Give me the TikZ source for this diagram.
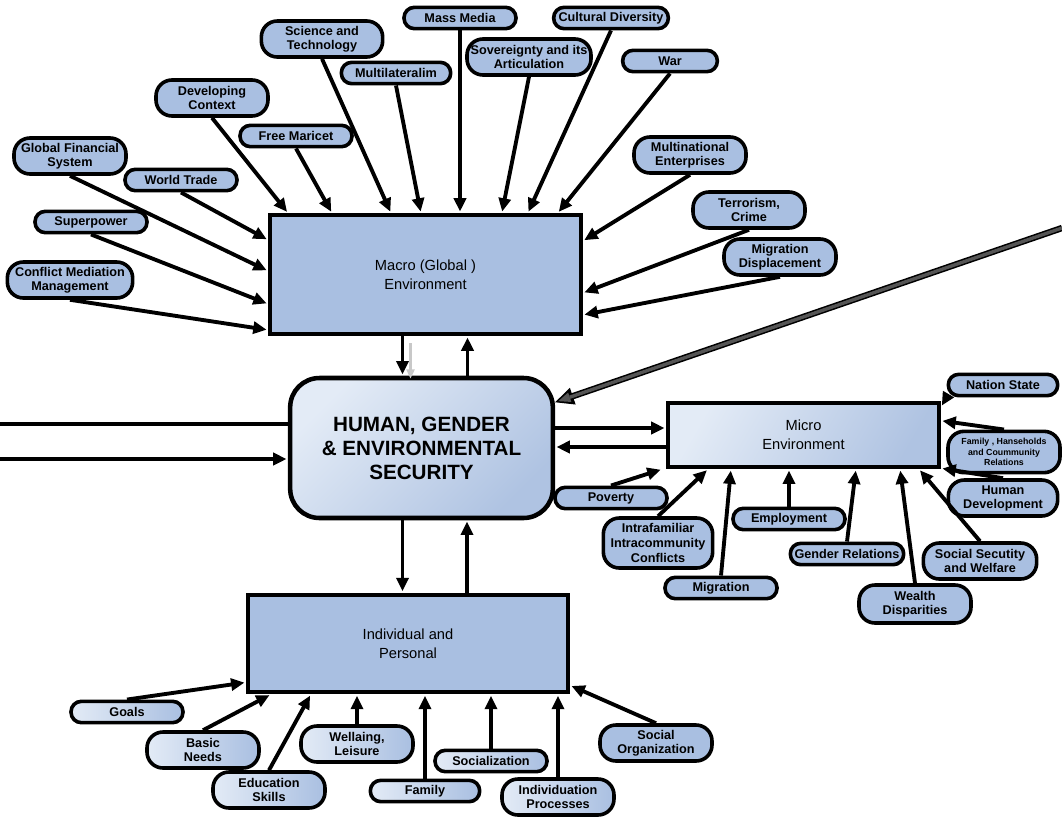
\documentclass[tikz,border=0pt]{standalone}
\usepackage{fontspec}
\setmainfont{Liberation Sans}
\usetikzlibrary{arrows.meta,calc}
\definecolor{cPill}{HTML}{A9BFE1}
\definecolor{cPale}{HTML}{E3EBF6}
\definecolor{cDeep}{HTML}{AFC3E2}
\definecolor{cGhost}{HTML}{C8C8C8}
\definecolor{cBeam}{HTML}{555555}

\begin{document}
\begin{tikzpicture}[
  x=0.75pt,y=-0.75pt,
  font=\fontsize{9.5}{10.5}\selectfont\bfseries,
  ar/.style={-{Triangle[length=10pt,width=9pt]},line width=2.9pt,shorten >=1pt},
  ghost/.style={-{Triangle[length=7pt,width=6pt]},line width=1.8pt,color=cGhost},
  pill/.style={draw,line width=2.7pt,fill=cPill,rounded corners=7.8pt,align=center,
               minimum width=84pt,minimum height=16pt,inner xsep=1pt,inner ysep=2pt},
  pill2/.style={pill,minimum height=27pt,rounded corners=12pt},
  soft/.style={left color=cPale,right color=cPill},
  box/.style={draw,line width=3.4pt,fill=cPill,align=center,
              font=\fontsize{11}{14}\selectfont\mdseries},
  hub/.style={draw,line width=3.4pt,rounded corners=22pt,align=center,
              font=\fontsize{15.5}{18}\selectfont\bfseries,
              left color=cPale,right color=cDeep,shading angle=45},
]
\path[use as bounding box,fill=white] (0,0) rectangle (1062,821);

% ---------------------------------------------------------- the four boxes
\node[box,minimum width=233pt,minimum height=89pt] (macro) at (425.5,274.5)
  {Macro (Global )\\Environment};
\node[hub,minimum width=197pt,minimum height=105pt] (hum) at (421.5,448)
  {HUMAN, GENDER\\\& ENVIRONMENTAL\\SECURITY};
\node[box,minimum width=203pt,minimum height=48pt,
      left color=cPale,right color=cDeep,shading angle=60] (micro) at (803.5,435)
  {Micro\\Environment};
\node[box,minimum width=240pt,minimum height=73pt] (ind) at (408,643.5)
  {Individual and\\Personal};

% ---------------------------------------------------------- macro factors
\node[pill2,minimum width=91pt] (sci) at (322,39) {Science and\\Technology};
\node[pill2] (dev) at (212,98) {Developing\\Context};
\node[pill] (fre) at (296,136) {Free Maricet};
\node[pill2] (gfs) at (70,156) {Global Financial\\System};
\node[pill] (wtr) at (181,180) {World Trade};
\node[pill] (sup) at (91,222) {Superpower};
\node[pill2,minimum width=94pt] (cmm) at (70,280) {Conflict Mediation\\Management};
\node[pill] (mas) at (460,18) {Mass Media};
\node[pill,minimum width=82pt] (mul) at (396,73) {Multilateralim};
\node[pill2,minimum width=93pt] (sov) at (529,57) {Sovereignty and its\\Articulation};
\node[pill,minimum width=86pt] (cul) at (611,18) {Cultural Diversity};
\node[pill,minimum width=71pt] (war) at (670,61) {War};
\node[pill2] (mne) at (690,155) {Multinational\\Enterprises};
\node[pill2] (ter) at (749,210) {Terrorism,\\Crime};
\node[pill2] (mdp) at (780,257) {Migration\\Displacement};

% ---------------------------------------------------------- micro factors
\node[pill,minimum width=82pt] (nat) at (1003,385) {Nation State};
\node[pill2,minimum height=31pt,font=\fontsize{6.6}{8}\selectfont\bfseries] (fhc) at (1004,452)
  {Family , Hanseholds\\and Coummunity\\Relations};
\node[pill2,minimum width=82pt] (hdv) at (1003,498) {Human\\Development};
\node[pill2,minimum width=85pt] (ssw) at (980,561) {Social Secutity\\and Welfare};
\node[pill2,minimum height=28.5pt] (wdi) at (915,604) {Wealth\\Disparities};
\node[pill,minimum width=85pt] (gen) at (847,554) {Gender Relations};
\node[pill] (emp) at (789,519) {Employment};
\node[pill] (mgr) at (721,588) {Migration};
\node[pill2,minimum width=82pt,minimum height=37.5pt,
      font=\fontsize{9.5}{11.5}\selectfont\bfseries] (ifc) at (658,543)
  {Intrafamiliar\\Intracommunity\\Conflicts};
\node[pill] (pov) at (611,498) {Poverty};

% ---------------------------------------------------------- individual factors
\node[pill,soft] (goa) at (127,712) {Goals};
\node[pill2,soft] (bas) at (203,750) {Basic\\Needs};
\node[pill2,soft] (edu) at (269,790) {Education\\Skills};
\node[pill2,soft] (wel) at (357,744) {Wellaing,\\Leisure};
\node[pill,soft,minimum width=82pt] (fmy) at (425,791) {Family};
\node[pill,soft] (soc) at (491,761) {Socialization};
\node[pill2,soft] (ivp) at (558,797) {Individuation\\Processes};
\node[pill2] (sor) at (656,743) {Social\\Organization};

% ---------------------------------------------------------- into the macro box
\draw[ar] (dev.south) -- ($(macro.north west)+(20,0)$);
\draw[ar] (fre.south) -- ($(macro.north west)+(64,0)$);
\draw[ar] (sci.south) -- ($(macro.north west)+(123,0)$);
\draw[ar] (mul.south) -- ($(macro.north west)+(153,0)$);
\draw[ar] (mas.south) -- (mas.south |- macro.north);
\draw[ar] (sov.south) -- ($(macro.north west)+(234,0)$);
\draw[ar] (cul.south) -- ($(macro.north west)+(260,0)$);
\draw[ar] (war.south) -- ($(macro.north west)+(290,0)$);
\draw[ar] (wtr.south) -- ($(macro.north west)+(0,27)$);
\draw[ar] (gfs.south) -- ($(macro.north west)+(0,58)$);
\draw[ar] (sup.south) -- ($(macro.north west)+(0,91)$);
\draw[ar] (cmm.south) -- ($(macro.north west)+(0,117)$);
\draw[ar] (mne.south) -- ($(macro.north east)+(0,28)$);
\draw[ar] (ter.south) -- ($(macro.north east)+(0,80)$);
\draw[ar] (mdp.south) -- ($(macro.north east)+(0,102)$);

% ---------------------------------------------------------- links round the centre
\draw[ar] ($(macro.south)+(-23,0)$) coordinate (md) -- (md |- hum.north);
\draw[ghost] ($(macro.south)+(-15,7)$) coordinate (mg) -- ($(mg |- hum.north)+(0,3)$);
\draw[ar] ($(hum.north)+(46,0)$) coordinate (hu) -- (hu |- macro.south);
\draw[ar] ($(hum.east)+(0,-20)$) coordinate (he) -- (he -| micro.west);
\draw[ar] ($(micro.west)+(0,12)$) coordinate (mw) -- (mw -| hum.east);
\draw[ar] ($(hum.south)+(-19,0)$) coordinate (hd) -- (hd |- ind.north);
\draw[ar] ($(ind.north)+(59,0)$) coordinate (iu) -- (iu |- hum.south);

\coordinate (lin1) at (0,424);
\coordinate (lin2) at (0,459);
\draw[line width=2.9pt] (lin1) -- (lin1 -| hum.west);
\draw[ar] (lin2) -- (lin2 -| hum.west);

% grey beam from the right edge
\coordinate (beam) at (1062,228);
\draw[line width=4.8pt,-{Triangle[length=14pt,width=13pt,line width=0.9pt]}] (beam) -- (hum);
\draw[line width=2.5pt,cBeam,shorten >=2.6pt,-{Triangle[length=9pt,width=7.5pt,line width=0pt]}] (beam) -- (hum);

% ---------------------------------------------------------- into the micro box
\draw[ar] (nat.south west) -- ($(micro.north east)+(0,6)$);
\draw[ar] (fhc.north) -- ($(micro.north east)+(0,20)$);
\draw[ar] (hdv.north) -- ($(micro.south east)+(0,-1)$);
\draw[ar] (ssw.north) -- ($(micro.south east)+(-22,0)$);
\draw[ar] (wdi.north) -- ($(micro.south east)+(-41,0)$);
\draw[ar] (gen.north) -- ($(micro.south west)+(190,0)$);
\draw[ar] (emp.north) -- (emp.north |- micro.south);
\draw[ar] (mgr.north) -- ($(micro.south west)+(65,0)$);
\draw[ar] (ifc.north) -- ($(micro.south west)+(42,0)$);
\draw[ar] (pov.north) -- ($(micro.south west)+(-4,0)$);

% ---------------------------------------------------------- into the individual box
\draw[ar] (goa.north) -- ($(ind.south west)+(0,-12)$);
\draw[ar] (bas.north) -- ($(ind.south west)+(25,0)$);
\draw[ar] (edu.north) -- ($(ind.south west)+(65,0)$);
\draw[ar] (wel.north) -- (wel.north |- ind.south);
\draw[ar] (fmy.north) -- (fmy.north |- ind.south);
\draw[ar] (soc.north) -- (soc.north |- ind.south);
\draw[ar] (ivp.north) -- (ivp.north |- ind.south);
\draw[ar] (sor.north) -- ($(ind.south east)+(0,-9)$);

\end{tikzpicture}
\end{document}
